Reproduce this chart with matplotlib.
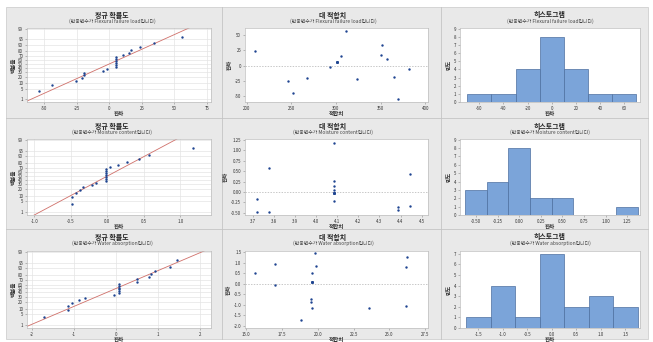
import numpy as np
import matplotlib
matplotlib.use('Agg')
import matplotlib.pyplot as plt
from matplotlib.patches import Rectangle
from matplotlib.lines import Line2D
from statistics import NormalDist

plt.rcParams['font.family'] = ['Noto Sans CJK KR', 'DejaVu Sans']

# ---- data ----
responses = ['Flexural failure load', 'Moisture content', 'Water absorption']

fits1 = [209, 246, 251.5, 268, 293, 301.5, 301.5, 301.5, 301.5, 301.5, 301.5,
         306, 311, 324, 350, 351, 357, 365, 369, 382]
res1 = [23.4, -25.5, -44, -19.7, -2, 5.5, 5.5, 5.5, 5.5, 5.5, 5.5,
        15, 56, -21, 16.5, 34, 10.5, -19, -54, -5]

fits2 = [3.72, 3.72, 3.777, 3.777, 4.083, 4.083, 4.083, 4.083, 4.083, 4.083,
         4.083, 4.083, 4.083, 4.083, 4.083, 4.083, 4.387, 4.387, 4.446, 4.446]
res2 = [-0.16, -0.48, 0.57, -0.49, 1.18, 0.27, 0.15, 0.04, -0.21, -0.02,
        -0.02, -0.02, -0.02, -0.02, -0.02, -0.02, -0.37, -0.43, 0.44, -0.33]

fits3 = [15.63, 17.05, 17.05, 18.81, 19.5, 19.53, 19.57, 19.6, 19.62, 19.62,
         19.62, 19.62, 19.62, 19.62, 19.84, 19.86, 23.6, 26.16, 26.23, 26.19]
res3 = [0.51, 0.93, -0.05, -1.72, -0.74, -0.88, 0.5, -1.15, 0.08, 0.08,
        0.08, 0.08, 0.08, 0.08, 1.47, 0.83, -1.15, 0.8, 1.28, -1.04]

prob_ticks = [1, 5, 10, 20, 30, 40, 50, 60, 70, 80, 90, 95, 99]

norm_xticks = [[-50, -25, 0, 25, 50, 75], [-1.0, -0.5, 0.0, 0.5, 1.0], [-2, -1, 0, 1, 2]]
norm_xlim = [(-63, 78), (-1.1, 1.42), (-2.12, 2.27)]
norm_fmt = ['{:.0f}', '{:.1f}', '{:.0f}']

fit_xticks = [[200, 250, 300, 350, 400],
              [3.7, 3.8, 3.9, 4.0, 4.1, 4.2, 4.3, 4.4, 4.5],
              [15.0, 17.5, 20.0, 22.5, 25.0, 27.5]]
fit_yticks = [[-50, -25, 0, 25, 50],
              [-0.50, -0.25, 0.00, 0.25, 0.50, 0.75, 1.00, 1.25],
              [-2.0, -1.5, -1.0, -0.5, 0.0, 0.5, 1.0, 1.5]]
fit_xlim = [(198, 403), (3.663, 4.53), (14.93, 27.69)]
fit_ylim = [(-59, 61), (-0.556, 1.274), (-2.1, 1.56)]
fit_xfmt = ['{:.0f}', '{:.1f}', '{:.1f}']
fit_yfmt = ['{:.0f}', '{:.2f}', '{:.1f}']

hist_bins = [np.arange(-70, 71, 20), np.arange(-0.625, 1.376, 0.25), np.arange(-1.75, 1.76, 0.5)]
hist_xticks = [[-60, -40, -20, 0, 20, 40, 60],
               [-0.50, -0.25, 0.00, 0.25, 0.50, 0.75, 1.00, 1.25],
               [-1.5, -1.0, -0.5, 0.0, 0.5, 1.0, 1.5]]
hist_xfmt = ['{:.0f}', '{:.2f}', '{:.1f}']
hist_xlim = [(-76, 73), (-0.685, 1.397), (-1.874, 1.80)]
hist_ymax = [9, 9, 7]
hist_ylim = [9.08, 9.08, 7.25]

fits = [fits1, fits2, fits3]
resid = [res1, res2, res3]

# ---- layout (pixels) ----
W, H = 653, 342
fig = plt.figure(figsize=(W / 100, H / 100), dpi=100)

def px_axes(x0, y0, x1, y1):
    return fig.add_axes([x0 / W, 1 - y1 / H, (x1 - x0) / W, (y1 - y0) / H])

bg = fig.add_axes([0, 0, 1, 1])
bg.set_xlim(0, W)
bg.set_ylim(H, 0)
bg.axis('off')
bg.add_patch(Rectangle((6, 7), 642, 332, facecolor='#e9e9e9', edgecolor='#d0d0d0', lw=0.6))
for xs in [222, 441]:
    bg.add_line(Line2D([xs, xs], [7, 339], color='#c4c4c4', lw=0.6))
for ys in [118, 229]:
    bg.add_line(Line2D([6, 648], [ys, ys], color='#c4c4c4', lw=0.6))

cols = [(27, 211), (245, 428), (460, 640)]
rows = [(28, 102), (139, 215), (251, 328)]
row_tops = [7, 118, 229]
title_x = [112, 333, 550]
titles = ['정규 확률도', '대 적합치', '히스토그램']

pt_color = '#1f4591'
bar_color = '#7ba4d9'
bar_edge = '#4d6f9f'
txt = '#333333'


def style(ax):
    for s in ax.spines.values():
        s.set_color('#bdbdbd')
        s.set_linewidth(0.5)
    ax.tick_params(labelsize=3.2, length=1.5, width=0.4, pad=1.2, colors='#888888',
                   labelcolor=txt)


nd = NormalDist()
for r in range(3):
    top = row_tops[r]
    for c in range(3):
        bg.text(title_x[c], top + 8, titles[c], ha='center', va='center', fontsize=5,
                fontweight='bold', color='#222222')
        bg.text(title_x[c], top + 14, '(반응변수가 ' + responses[r] + '입니다)', ha='center',
                va='center', fontsize=3.5, color='#444444')

    rr = np.array(resid[r])
    ff = np.array(fits[r])
    y0, y1 = rows[r]

    # normal probability plot
    ax = px_axes(cols[0][0], y0, cols[0][1], y1)
    style(ax)
    srt = np.sort(rr)
    n = len(srt)
    zz = [nd.inv_cdf((i + 1 - 0.3) / (n + 0.4)) for i in range(n)]
    mu, sd = rr.mean(), rr.std(ddof=1)
    zline = np.array([-3.0, 3.0])
    ax.plot(mu + zline * sd, zline, color='#d0706a', lw=0.6, zorder=2)
    ax.scatter(srt, zz, s=3, color=pt_color, zorder=3, linewidths=0)
    ax.set_yticks([nd.inv_cdf(p / 100) for p in prob_ticks])
    ax.set_yticklabels([str(p) for p in prob_ticks])
    ax.set_xticks(norm_xticks[r])
    ax.set_xticklabels([norm_fmt[r].format(v) for v in norm_xticks[r]])
    ax.set_xlim(norm_xlim[r])
    ax.set_ylim(-2.53, 2.40)
    ax.grid(color='#e4e4e4', lw=0.5)
    ax.set_axisbelow(True)
    ax.set_xlabel('잔차', fontsize=4, fontweight='bold', labelpad=1, color=txt)
    ax.set_ylabel('백분율', fontsize=4, fontweight='bold', labelpad=1.5, color=txt)

    # versus fits
    ax = px_axes(cols[1][0], y0, cols[1][1], y1)
    style(ax)
    ax.axhline(0, color='#b0b0b0', lw=0.5, ls=(0, (2, 2)), zorder=1)
    ax.scatter(ff, rr, s=3, color=pt_color, zorder=3, linewidths=0)
    ax.set_xticks(fit_xticks[r])
    ax.set_xticklabels([fit_xfmt[r].format(v) for v in fit_xticks[r]])
    ax.set_yticks(fit_yticks[r])
    ax.set_yticklabels([fit_yfmt[r].format(v) for v in fit_yticks[r]])
    ax.set_xlim(fit_xlim[r])
    ax.set_ylim(fit_ylim[r])
    ax.set_xlabel('적합치', fontsize=4, fontweight='bold', labelpad=1, color=txt)
    ax.set_ylabel('잔차', fontsize=4, fontweight='bold', labelpad=1.5, color=txt)

    # histogram
    ax = px_axes(cols[2][0], y0, cols[2][1], y1)
    style(ax)
    ax.hist(rr, bins=hist_bins[r], color=bar_color, edgecolor=bar_edge, linewidth=0.5)
    ax.set_xticks(hist_xticks[r])
    ax.set_xticklabels([hist_xfmt[r].format(v) for v in hist_xticks[r]])
    ax.set_yticks(range(hist_ymax[r] + 1))
    ax.set_xlim(hist_xlim[r])
    ax.set_ylim(0, hist_ylim[r])
    ax.set_xlabel('잔차', fontsize=4, fontweight='bold', labelpad=1, color=txt)
    ax.set_ylabel('빈도', fontsize=4, fontweight='bold', labelpad=1.5, color=txt)

fig.savefig('out.png', dpi=100)
